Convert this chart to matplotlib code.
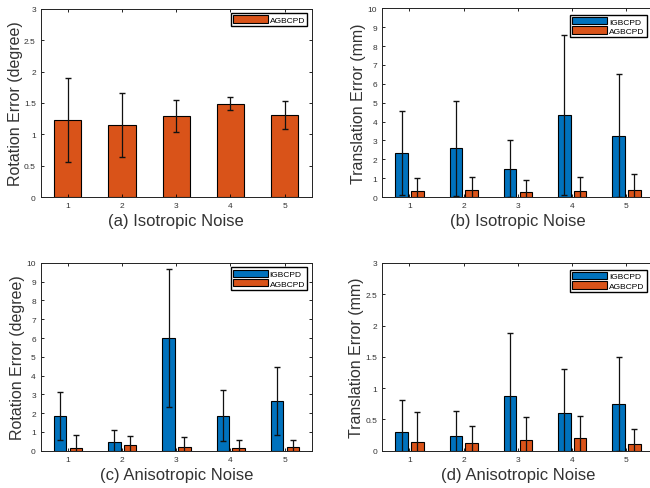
import matplotlib
matplotlib.use('Agg')
import matplotlib.pyplot as plt
import numpy as np

plt.rcParams['font.family'] = ['Liberation Sans', 'DejaVu Sans']

groups = [1, 2, 3, 4, 5]

# (a) isotropic noise, rotation error (degree)
iso_rot_ag = [1.23, 1.15, 1.29, 1.49, 1.31]
iso_rot_ag_err = [0.67, 0.51, 0.26, 0.11, 0.22]

# (b) isotropic noise, translation error (mm)
iso_tr_ig = [2.35, 2.58, 1.50, 4.33, 3.25]
iso_tr_ig_err = [2.23, 2.52, 1.50, 4.24, 3.25]
iso_tr_ag = [0.30, 0.38, 0.25, 0.30, 0.35]
iso_tr_ag_err = [0.72, 0.67, 0.65, 0.75, 0.87]

# (c) anisotropic noise, rotation error (degree)
ani_rot_ig = [1.85, 0.45, 6.00, 1.87, 2.65]
ani_rot_ig_err = [1.28, 0.65, 3.67, 1.37, 1.81]
ani_rot_ag = [0.13, 0.28, 0.20, 0.13, 0.18]
ani_rot_ag_err = [0.72, 0.50, 0.53, 0.44, 0.37]

# (d) anisotropic noise, translation error (mm)
ani_tr_ig = [0.30, 0.23, 0.88, 0.60, 0.74]
ani_tr_ig_err = [0.51, 0.41, 1.00, 0.70, 0.75]
ani_tr_ag = [0.14, 0.12, 0.17, 0.21, 0.10]
ani_tr_ag_err = [0.48, 0.28, 0.37, 0.34, 0.24]

blue = '#0072BD'
orange = '#D95319'
ekw = dict(elinewidth=0.9, capsize=2.2, capthick=1.0, ecolor='#111111')

fig = plt.figure(figsize=(6.5, 4.89), dpi=100)


def style(ax, ylim, yticks, ylabel, xlabel, pad=0.6):
    ax.set_xlim(0.5, 5.5)
    ax.set_ylim(*ylim)
    ax.set_yticks(yticks)
    ax.set_yticklabels([('%g' % t) for t in yticks])
    ax.set_xticks(groups)
    ax.tick_params(direction='in', length=2.5, width=0.6, labelsize=6,
                   labelcolor='#333333', top=True, right=True, pad=3.5)
    for s in ax.spines.values():
        s.set_linewidth(0.7)
        s.set_color('#222222')
    ax.set_ylabel(ylabel, fontsize=11.5, color='#333333', labelpad=1)
    ax.set_xlabel(xlabel, fontsize=12, color='#333333', labelpad=3)
    ax.legend(loc='upper right', fontsize=6, fancybox=False, edgecolor='black',
              framealpha=1, handlelength=4.2, handleheight=1.0, borderpad=0.25,
              labelspacing=0.1, handletextpad=0.2, borderaxespad=pad)


def grouped(ax, ig, ig_err, ag, ag_err):
    x = np.array(groups)
    ax.bar(x - 0.14, ig, 0.23, yerr=ig_err, color=blue, edgecolor='black',
           linewidth=0.8, label='IGBCPD', error_kw=ekw)
    ax.bar(x + 0.15, ag, 0.23, yerr=ag_err, color=orange, edgecolor='black',
           linewidth=0.8, label='AGBCPD', error_kw=ekw)


ax1 = fig.add_axes([0.0626, 0.595, 0.417, 0.385])
ax1.bar(groups, iso_rot_ag, 0.5, yerr=iso_rot_ag_err, color=orange,
        edgecolor='black', linewidth=0.8, label='AGBCPD', error_kw=ekw)
style(ax1, (0, 3), np.arange(0, 3.01, 0.5), 'Rotation Error (degree)',
      '(a) Isotropic Noise', pad=0.55)

ax2 = fig.add_axes([0.588, 0.595, 0.417, 0.386])
grouped(ax2, iso_tr_ig, iso_tr_ig_err, iso_tr_ag, iso_tr_ag_err)
style(ax2, (0, 10), np.arange(0, 11, 1), 'Translation Error (mm)',
      '(b) Isotropic Noise', pad=0.8)

ax3 = fig.add_axes([0.0626, 0.0763, 0.417, 0.384])
grouped(ax3, ani_rot_ig, ani_rot_ig_err, ani_rot_ag, ani_rot_ag_err)
style(ax3, (0, 10), np.arange(0, 11, 1), 'Rotation Error (degree)',
      '(c) Anisotropic Noise', pad=0.55)

ax4 = fig.add_axes([0.588, 0.0763, 0.417, 0.384])
grouped(ax4, ani_tr_ig, ani_tr_ig_err, ani_tr_ag, ani_tr_ag_err)
style(ax4, (0, 3), np.arange(0, 3.01, 0.5), 'Translation Error (mm)',
      '(d) Anisotropic Noise', pad=0.8)

fig.savefig('out.png', dpi=100)
